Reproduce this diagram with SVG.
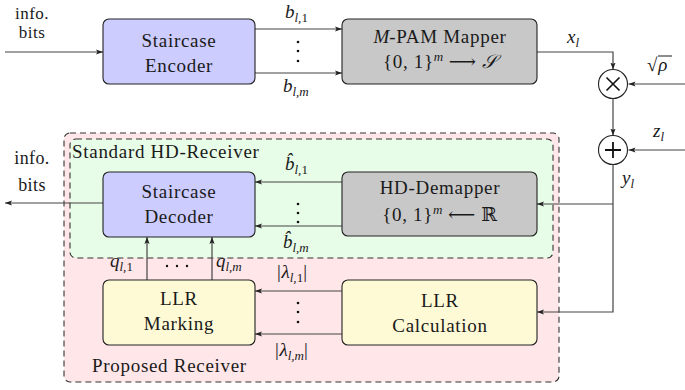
<svg xmlns="http://www.w3.org/2000/svg" width="685" height="390" viewBox="0 0 685 390">
<style>
text{font-family:'Liberation Serif','DejaVu Serif',serif;font-size:19px;fill:#1a1a1a;letter-spacing:0.7px}
.c{text-anchor:middle}
.sm{font-size:18px;letter-spacing:0.4px}
.xs{font-size:17px;letter-spacing:0.5px}
.m{font-style:italic;letter-spacing:0}
.s{font-size:13px;font-style:italic;letter-spacing:0}
.n{font-size:13px;letter-spacing:0}
.box{stroke:#222;stroke-width:1.1}
.blue{fill:#ccccff}
.gray{fill:#c8c8c8}
.yel{fill:#fffad6}
.ln{fill:none;stroke:#444;stroke-width:1.2}
.dot{fill:#111}
</style>
<defs>
<marker id="ah" markerWidth="8" markerHeight="6" refX="7" refY="3" orient="auto" markerUnits="userSpaceOnUse">
<path d="M0,0.4 L7,3 L0,5.6 L1.5,3 Z" fill="#222"/>
</marker>
</defs>

<g id="proposed-receiver">
<rect x="64" y="133" width="495" height="249" rx="6" fill="#ffe6e8" stroke="#333" stroke-width="1.1" stroke-dasharray="6,4"/>
<text x="92" y="372">Proposed Receiver</text>
</g>
<g id="standard-hd-receiver">
<rect x="70" y="139" width="483" height="119" rx="6" fill="#e8fde8" stroke="#333" stroke-width="1.1" stroke-dasharray="6,4"/>
<text x="72" y="158">Standard HD-Receiver</text>
</g>

<g id="connectors">
<line class="ln" x1="5" y1="52" x2="103" y2="52" marker-end="url(#ah)"/>
<line class="ln" x1="255" y1="29" x2="342" y2="29" marker-end="url(#ah)"/>
<line class="ln" x1="255" y1="73" x2="342" y2="73" marker-end="url(#ah)"/>
<polyline class="ln" points="537,52 613,52 613,69.5" marker-end="url(#ah)"/>
<line class="ln" x1="685" y1="84" x2="628.5" y2="84" marker-end="url(#ah)"/>
<line class="ln" x1="613" y1="98.5" x2="613" y2="135.5" marker-end="url(#ah)"/>
<line class="ln" x1="685" y1="150" x2="628.5" y2="150" marker-end="url(#ah)"/>
<polyline class="ln" points="613,164.5 613,312 537,312" marker-end="url(#ah)"/>
<line class="ln" x1="613" y1="204" x2="537" y2="204" stroke-width="1.8" marker-end="url(#ah)"/>
<line class="ln" x1="342" y1="182" x2="255" y2="182" marker-end="url(#ah)"/>
<line class="ln" x1="342" y1="226" x2="255" y2="226" marker-end="url(#ah)"/>
<line class="ln" x1="103" y1="203" x2="5" y2="203" marker-end="url(#ah)"/>
<line class="ln" x1="342" y1="291" x2="255" y2="291" marker-end="url(#ah)"/>
<line class="ln" x1="342" y1="334" x2="255" y2="334" marker-end="url(#ah)"/>
<line class="ln" x1="147" y1="280" x2="147" y2="237" marker-end="url(#ah)"/>
<line class="ln" x1="212" y1="280" x2="212" y2="237" marker-end="url(#ah)"/>
</g>

<g id="labels">
<text class="c xs" x="32" y="19">info.</text>
<text class="c xs" x="32" y="38">bits</text>
<text class="c sm" x="32" y="164">info.</text>
<text class="c sm" x="32" y="191">bits</text>
<text x="285" y="18"><tspan class="m">b</tspan><tspan class="s" dy="4">l,</tspan><tspan class="n">1</tspan></text>
<text x="283" y="92"><tspan class="m">b</tspan><tspan class="s" dy="4">l,m</tspan></text>
<circle class="dot" cx="298" cy="42" r="1.3"/><circle class="dot" cx="298" cy="51" r="1.3"/><circle class="dot" cx="298" cy="61" r="1.3"/>
<text x="567" y="43"><tspan class="m">x</tspan><tspan class="s" dy="4">l</tspan></text>
<text x="647" y="71">√<tspan class="m">ρ</tspan></text>
<line x1="658" y1="56" x2="672" y2="56" stroke="#1a1a1a" stroke-width="1"/>
<text x="653" y="137"><tspan class="m">z</tspan><tspan class="s" dy="4">l</tspan></text>
<text x="622" y="184"><tspan class="m">y</tspan><tspan class="s" dy="4">l</tspan></text>
<text x="285" y="170"><tspan class="m">b̂</tspan><tspan class="s" dy="4">l,</tspan><tspan class="n">1</tspan></text>
<text x="283" y="248"><tspan class="m">b̂</tspan><tspan class="s" dy="4">l,m</tspan></text>
<circle class="dot" cx="298" cy="204" r="1.3"/><circle class="dot" cx="298" cy="213" r="1.3"/><circle class="dot" cx="298" cy="222" r="1.3"/>
<text x="110" y="267"><tspan class="m">q</tspan><tspan class="s" dy="4">l,</tspan><tspan class="n">1</tspan></text>
<circle class="dot" cx="167" cy="266" r="1.2"/><circle class="dot" cx="177" cy="266" r="1.2"/><circle class="dot" cx="187" cy="266" r="1.2"/>
<text x="216" y="267"><tspan class="m">q</tspan><tspan class="s" dy="4">l,m</tspan></text>
<text x="277" y="278">|<tspan class="m">λ</tspan><tspan class="s" dy="4">l,</tspan><tspan class="n">1</tspan><tspan dy="-4">|</tspan></text>
<text x="275" y="356">|<tspan class="m">λ</tspan><tspan class="s" dy="4">l,m</tspan><tspan dy="-4">|</tspan></text>
<circle class="dot" cx="298" cy="303" r="1.3"/><circle class="dot" cx="298" cy="312" r="1.3"/><circle class="dot" cx="298" cy="322" r="1.3"/>
</g>

<g id="staircase-encoder">
<rect class="box blue" x="103" y="19" width="152" height="65" rx="6"/>
<text class="c" x="179" y="47">Staircase</text>
<text class="c" x="179" y="72">Encoder</text>
</g>
<g id="pam-mapper">
<rect class="box gray" x="342" y="19" width="195" height="65" rx="6"/>
<text class="c" x="440" y="43"><tspan class="m">M</tspan>-PAM Mapper</text>
<text class="c" x="440" y="68">{0, 1}<tspan class="s" dy="-7">m</tspan><tspan dy="7"> ⟶ </tspan><tspan class="m">𝒮</tspan></text>
</g>
<g id="multiplier">
<circle cx="613" cy="84" r="14.5" fill="#fff" stroke="#222" stroke-width="1.1"/>
<path d="M606.5,77.5 L619.5,90.5 M619.5,77.5 L606.5,90.5" stroke="#111" stroke-width="1.6"/>
</g>
<g id="adder">
<circle cx="613" cy="150" r="14.5" fill="#fff" stroke="#222" stroke-width="1.1"/>
<path d="M613,142 L613,158 M605,150 L621,150" stroke="#111" stroke-width="1.8"/>
</g>
<g id="hd-demapper">
<rect class="box gray" x="342" y="172" width="195" height="64" rx="6"/>
<text class="c" x="440" y="194">HD-Demapper</text>
<text class="c" x="440" y="221">{0, 1}<tspan class="s" dy="-7">m</tspan><tspan dy="7"> ⟵ ℝ</tspan></text>
</g>
<g id="staircase-decoder">
<rect class="box blue" x="103" y="172" width="152" height="65" rx="6"/>
<text class="c" x="179" y="198">Staircase</text>
<text class="c" x="179" y="223">Decoder</text>
</g>
<g id="llr-marking">
<rect class="box yel" x="103" y="280" width="152" height="65" rx="6"/>
<text class="c" x="179" y="305">LLR</text>
<text class="c" x="179" y="330">Marking</text>
</g>
<g id="llr-calculation">
<rect class="box yel" x="342" y="280" width="195" height="65" rx="6"/>
<text class="c" x="440" y="307">LLR</text>
<text class="c" x="440" y="332">Calculation</text>
</g>
</svg>
